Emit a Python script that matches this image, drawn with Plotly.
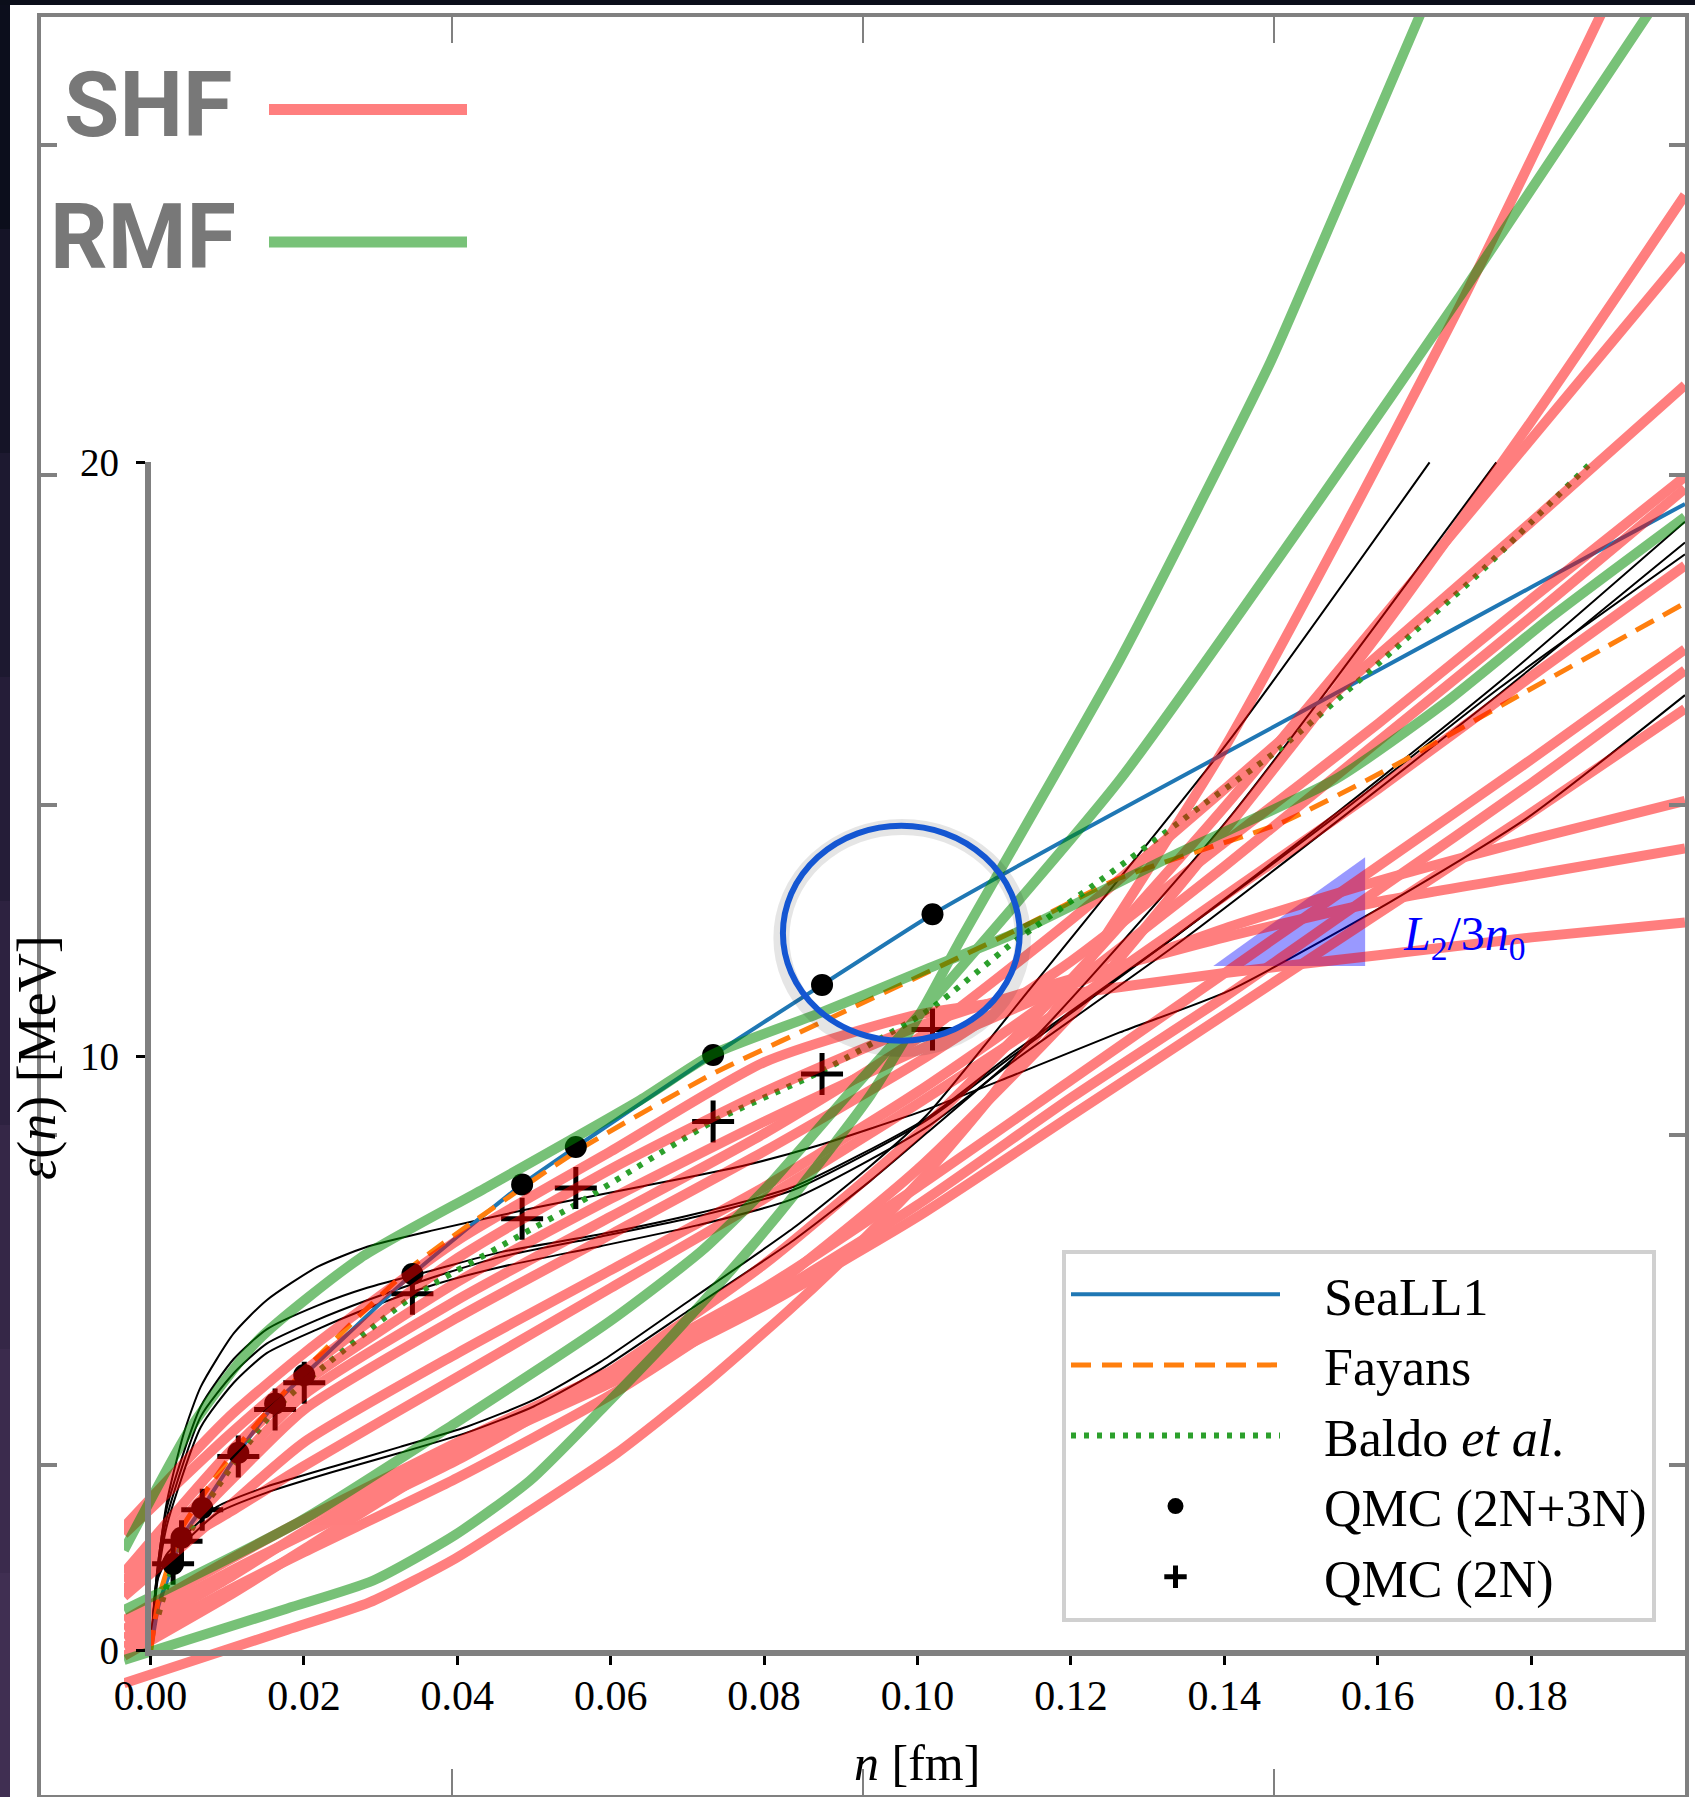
import plotly.graph_objects as go

W, H = 1695, 1797


def px(v):
    return v / W


def py(v):
    return (H - v) / H


# ---------------- data ----------------
qmc_n = [0.0029, 0.0040, 0.0067, 0.0114, 0.0162, 0.0200, 0.0341, 0.0484, 0.0554, 0.0733, 0.0875, 0.1019]
qmc_2n3n = [1.45, 1.89, 2.39, 3.32, 4.15, 4.63, 6.33, 7.84, 8.47, 10.02, 11.20, 12.39]
qmc_2n = [1.45, 1.83, 2.36, 3.26, 4.05, 4.50, 6.00, 7.26, 7.78, 8.90, 9.70, 10.45]

seall1_n = [0, 0.001, 0.0029, 0.004, 0.0067, 0.0114, 0.0162, 0.02, 0.0341, 0.0484, 0.0554,
            0.0733, 0.0875, 0.1019, 0.12, 0.14, 0.16, 0.18, 0.2]
seall1_e = [0, 0.75, 1.45, 1.89, 2.39, 3.32, 4.15, 4.63, 6.33, 7.84, 8.47,
            10.02, 11.20, 12.39, 13.7, 15.1, 16.5, 17.9, 19.3]

fayans_n = [0, 0.001, 0.004, 0.0113, 0.02, 0.0342, 0.0555, 0.0732, 0.0912, 0.1123, 0.1263,
            0.1474, 0.1615, 0.179, 0.2]
fayans_e = [0, 0.85, 2.04, 3.42, 4.71, 6.47, 8.4, 9.7, 10.8, 12.09, 13.0,
            13.93, 14.85, 16.12, 17.63]

baldo_n = [0.001, 0.003, 0.0067, 0.0114, 0.0162, 0.02, 0.0341, 0.0484, 0.0554, 0.0733, 0.0875,
           0.1017, 0.1123, 0.1242, 0.1368, 0.1474, 0.1586, 0.1729, 0.1874]
baldo_e = [0.6, 1.45, 2.35, 3.25, 4.05, 4.5, 5.95, 7.0, 7.5, 8.9, 9.75,
           10.8, 11.9, 13.0, 14.2, 15.2, 16.45, 18.1, 19.95]

# SHF (Skyrme) curves
shf_n = [-0.0035, 0.01, 0.02, 0.04, 0.06, 0.08, 0.10, 0.12, 0.14, 0.16, 0.18, 0.20]
shf_02 = [0.05, 1.0, 1.65, 2.9, 4.3, 6.0, 8.1, 10.7, 13.8, 17.1, 20.7, 24.5]
shf_03 = [0.35, 1.3, 1.95, 3.2, 4.7, 6.5, 8.7, 11.3, 14.2, 17.3, 20.4, 23.5]
shf_04 = [1.15, 3.0, 4.3, 5.9, 7.3, 8.7, 10.3, 12.3, 14.5, 16.75, 19.0, 21.3]
shf_05 = [1.0, 2.8, 4.05, 5.6, 7.0, 8.4, 9.9, 11.6, 13.6, 15.6, 17.7, 19.76]
shf_06 = [0.9, 2.4, 3.5, 5.0, 6.4, 7.8, 9.4, 11.2, 13.2, 15.3, 17.4, 19.56]
shf_07 = [1.3, 2.3, 3.1, 4.6, 6.1, 7.6, 9.2, 10.9, 12.7, 14.5, 16.4, 18.26]
shf_08 = [0.5, 1.5, 2.2, 3.5, 4.7, 6.1, 7.8, 9.6, 11.4, 13.2, 15.0, 16.85]
shf_09 = [0.2, 1.2, 2.0, 3.4, 4.6, 5.9, 7.5, 9.3, 11.0, 12.8, 14.6, 16.5]
shf_10 = [-0.1, 0.9, 1.7, 3.3, 4.5, 5.8, 7.3, 9.0, 10.7, 12.4, 14.1, 15.85]
shf_11 = [1.3, 3.3, 4.5, 6.2, 7.6, 8.9, 10.1, 11.2, 12.15, 12.95, 13.65, 14.3]
shf_12 = [1.95, 3.6, 4.7, 6.6, 8.1, 9.4, 10.5, 11.3, 12.0, 12.6, 13.05, 13.5]
shf_13 = [2.07, 3.9, 5.0, 6.9, 8.4, 9.9, 10.7, 11.05, 11.4, 11.7, 12.0, 12.25]
shf_01_n = [-0.0035, 0.0178, 0.0285, 0.0397, 0.0494, 0.0607, 0.0719, 0.0831, 0.0906, 0.1, 0.11,
            0.12, 0.13, 0.14, 0.156, 0.1709, 0.19]
shf_01 = [-0.56, 0.34, 0.8, 1.54, 2.34, 3.31, 4.45, 5.71, 6.62, 7.86, 9.39,
          11.16, 13.14, 15.2, 19.0, 22.7, 27.8]

# RMF curves
rmf_1_n = [-0.0035, 0.0178, 0.029, 0.0397, 0.0494, 0.0591, 0.0681, 0.0779, 0.0838, 0.0938, 0.1011,
           0.1053, 0.1263, 0.137, 0.146, 0.1544, 0.168]
rmf_1 = [-0.17, 0.7, 1.17, 1.94, 2.85, 4.1, 5.31, 6.73, 7.65, 9.34, 10.9,
         11.9, 16.67, 19.36, 21.7, 24.2, 28.3]
rmf_2_n = [-0.0035, 0.0195, 0.0397, 0.06, 0.0719, 0.08, 0.0912, 0.1043, 0.1263, 0.1523, 0.1709, 0.197]
rmf_2 = [0.67, 2.17, 3.82, 5.55, 6.73, 7.75, 9.4, 11.3, 14.65, 19.36, 22.84, 27.9]
rmf_3_n = [-0.0035, 0.0053, 0.014, 0.0273, 0.0439, 0.0638, 0.0732, 0.0871, 0.1016, 0.1123, 0.1333,
           0.1544, 0.1685, 0.1825, 0.2]
rmf_3 = [1.68, 3.76, 5.22, 6.6, 7.8, 9.26, 10.03, 10.72, 11.49, 12.05, 13.38,
         14.66, 15.93, 17.39, 19.08]

# thin black curves
blk_1_n = [0, 0.0008, 0.0021, 0.0043, 0.0065, 0.0108, 0.0151, 0.0217, 0.0282, 0.0369, 0.0505,
           0.0638, 0.0771, 0.0871, 0.1011, 0.1123, 0.1263, 0.1405, 0.1616, 0.1793, 0.2]
blk_1 = [0, 1.3, 2.5, 3.65, 4.43, 5.33, 5.89, 6.45, 6.79, 7.07, 7.46,
         7.8, 8.15, 8.5, 9.1, 9.67, 10.4, 11.1, 12.6, 14.0, 16.08]
blk_up_n = [0, 0.0008, 0.0021, 0.0065, 0.0108, 0.0151, 0.0217, 0.0282, 0.0369, 0.0456, 0.0586,
            0.0712, 0.0838, 0.1011, 0.1123, 0.1334, 0.1546, 0.1758, 0.2]
blk_2 = [0, 1.2, 2.24, 3.93, 4.66, 5.16, 5.56, 5.89, 6.28, 6.62, 6.96,
         7.3, 7.75, 8.92, 10.0, 12.0, 14.1, 16.3, 19.0]
blk_3 = [0, 1.1, 2.1, 3.75, 4.5, 5.0, 5.4, 5.75, 6.15, 6.45, 6.8,
         7.15, 7.6, 8.8, 9.9, 11.85, 13.95, 16.1, 18.65]
blk_4 = [0, 1.3, 2.4, 4.1, 4.9, 5.4, 5.8, 6.1, 6.4, 6.7, 7.0,
         7.35, 7.8, 8.95, 10.05, 12.0, 14.05, 16.2, 18.45]
blk_5_n = [0, 0.0008, 0.002, 0.0047, 0.0086, 0.0151, 0.0238, 0.0325, 0.0412, 0.0499, 0.0586,
           0.0705, 0.0838, 0.0938, 0.1011, 0.1144, 0.1405, 0.1667]
blk_5 = [0, 1.2, 1.6, 1.96, 2.41, 2.75, 3.09, 3.42, 3.76, 4.21, 4.85,
         5.91, 7.11, 8.15, 9.0, 11.1, 15.3, 20.0]
blk_6_n = [0, 0.0008, 0.002, 0.0047, 0.0086, 0.0151, 0.0238, 0.0325, 0.0412, 0.0499, 0.0586,
           0.0705, 0.0838, 0.0938, 0.1011, 0.1144, 0.1405, 0.1754]
blk_6 = [0, 1.15, 1.5, 1.85, 2.3, 2.65, 3.0, 3.32, 3.66, 4.1, 4.72,
         5.75, 6.9, 7.9, 8.7, 10.2, 14.0, 20.0]

# L2/3n0 wedge
wedge_n = [0.1385, 0.1583, 0.1583]
wedge_e = [11.52, 13.35, 11.52]

x_ticks = [0.00, 0.02, 0.04, 0.06, 0.08, 0.10, 0.12, 0.14, 0.16, 0.18]
y_ticks = [0, 10, 20]

# ---------------- styles ----------------
PINK_KEY = 'rgba(255,0,0,0.5)'
GREEN_KEY = 'rgba(0,140,0,0.53)'
SERIF = 'Liberation Serif, Times New Roman, serif'
BOLDSANS = 'Roboto, Liberation Sans, sans-serif'
NB = '\u00a0\u00a0\u00a0'


def joined(sets):
    xs, ys = [], []
    for a, b in sets:
        xs += list(a) + [None]
        ys += list(b) + [None]
    return xs, ys


fig = go.Figure()

black_sets = [(blk_1_n, blk_1), (blk_up_n, blk_2), (blk_up_n, blk_3), (blk_up_n, blk_4),
              (blk_5_n, blk_5), (blk_6_n, blk_6)]
bx, by = joined(black_sets)
fig.add_trace(go.Scatter(x=bx, y=by, mode='lines', showlegend=False, hoverinfo='skip', connectgaps=False,
                         line=dict(color='black', width=2, shape='spline', smoothing=0.6)))

fig.add_trace(go.Scatter(x=seall1_n, y=seall1_e, mode='lines', name=NB + 'SeaLL1', legendrank=1,
                         line=dict(color='#1f77b4', width=4, shape='spline', smoothing=0.5)))
fig.add_trace(go.Scatter(x=fayans_n, y=fayans_e, mode='lines', name=NB + 'Fayans', legendrank=2,
                         line=dict(color='#ff7f0e', width=5, dash='20px,11px', shape='spline', smoothing=0.5)))
fig.add_trace(go.Scatter(x=baldo_n, y=baldo_e, mode='lines', name=NB + 'Baldo <i>et al.</i>',
                         legendrank=3,
                         line=dict(color='#2ca02c', width=6, dash='5px,8px', shape='spline', smoothing=0.5)))
fig.add_trace(go.Scatter(x=qmc_n, y=qmc_2n3n, mode='markers', name=NB + 'QMC (2N+3N)', legendrank=4,
                         marker=dict(color='black', size=22, symbol='circle')))
fig.add_trace(go.Scatter(x=qmc_n, y=qmc_2n, mode='markers', name=NB + 'QMC (2N)', legendrank=5,
                         marker=dict(color='black', size=30, symbol='cross-thin',
                                     line=dict(color='black', width=5))))

fig.add_trace(go.Scatter(x=wedge_n, y=wedge_e, mode='lines', fill='toself',
                         fillcolor='rgba(0,0,255,0.4)', line=dict(width=0),
                         showlegend=False, hoverinfo='skip'))

shf_sets = [(shf_01_n, shf_01), (shf_n, shf_02), (shf_n, shf_03), (shf_n, shf_04), (shf_n, shf_05),
            (shf_n, shf_06), (shf_n, shf_07), (shf_n, shf_08), (shf_n, shf_09), (shf_n, shf_10),
            (shf_n, shf_11), (shf_n, shf_12), (shf_n, shf_13)]
sx, sy = joined(shf_sets)
fig.add_trace(go.Scatter(x=sx, y=sy, mode='lines', showlegend=False, hoverinfo='skip', connectgaps=False,
                         opacity=0.5,
                         line=dict(color='rgb(255,0,0)', width=10, shape='spline', smoothing=0.6)))

rmf_sets = [(rmf_1_n, rmf_1), (rmf_2_n, rmf_2), (rmf_3_n, rmf_3)]
rx, ry = joined(rmf_sets)
fig.add_trace(go.Scatter(x=rx, y=ry, mode='lines', showlegend=False, hoverinfo='skip', connectgaps=False,
                         opacity=0.53,
                         line=dict(color='rgb(0,140,0)', width=10, shape='spline', smoothing=0.6)))

# dummy traces for frame axes and spine axes
fig.add_trace(go.Scatter(x=[None], y=[None], xaxis='x2', yaxis='y2', showlegend=False, hoverinfo='skip'))
fig.add_trace(go.Scatter(x=[None], y=[None], xaxis='x3', yaxis='y3', showlegend=False, hoverinfo='skip'))

# ---------------- layout ----------------
shapes = []
shapes.append(dict(type='rect', xref='paper', yref='paper', x0=px(10), x1=1, y0=0, y1=py(5),
                   fillcolor='white', line=dict(width=0), layer='below'))
band_cols = ['#0c0e1c', '#151427', '#1d1930', '#251d38', '#2d2240', '#352747', '#3b2b4d', '#402f52']
nseg = len(band_cols)
for i, c in enumerate(band_cols):
    shapes.append(dict(type='rect', xref='paper', yref='paper', x0=0, x1=px(10),
                       y0=py(5 + (H - 5) * (i + 1) / nseg), y1=py(5 + (H - 5) * i / nseg),
                       fillcolor=c, line=dict(width=0), layer='below'))
shapes.append(dict(type='line', xref='paper', yref='paper', x0=px(269), x1=px(467),
                   y0=py(109.5), y1=py(109.5), line=dict(color=PINK_KEY, width=11)))
shapes.append(dict(type='line', xref='paper', yref='paper', x0=px(269), x1=px(467),
                   y0=py(242), y1=py(242), line=dict(color=GREEN_KEY, width=11)))
shapes.append(dict(type='circle', xref='x', yref='y', x0=0.0822, x1=0.1137, y0=10.12, y1=13.86,
                   line=dict(color='rgba(0,0,0,0.10)', width=16)))
shapes.append(dict(type='circle', xref='x', yref='y', x0=0.0824, x1=0.11327, y0=10.26, y1=13.88,
                   line=dict(color='#1456d2', width=6)))

annotations = [
    dict(text='<b>SHF</b>', xref='paper', yref='paper', x=px(148), y=py(106), xanchor='center',
         yanchor='middle', showarrow=False, font=dict(family=BOLDSANS, size=90, color='#787878')),
    dict(text='<b>RMF</b>', xref='paper', yref='paper', x=px(143), y=py(238), xanchor='center',
         yanchor='middle', showarrow=False, font=dict(family=BOLDSANS, size=90, color='#787878')),
    dict(text='<i>L</i><sub>2</sub>/3<i>n</i><sub>0</sub>', xref='x', yref='y', x=0.1713, y=12.0,
         xanchor='center', yanchor='middle', showarrow=False,
         font=dict(family=SERIF, size=48, color='#0000ff')),
    dict(text='<i>n</i> [fm]', xref='paper', yref='paper', x=px(917), y=py(1763), xanchor='center',
         yanchor='middle', showarrow=False, font=dict(family=SERIF, size=50, color='black')),
    dict(text='<i>ε</i>(<i>n</i>) [MeV]', xref='paper', yref='paper', x=px(37), y=py(1058),
         xanchor='center', yanchor='middle', textangle=-90, showarrow=False, borderpad=0,
         font=dict(family=SERIF, size=54, color='black')),
]

fig.update_layout(
    width=W, height=H,
    margin=dict(l=0, r=0, t=0, b=0, pad=0, autoexpand=False),
    paper_bgcolor='#0b0e1a',
    plot_bgcolor='rgba(0,0,0,0)',
    showlegend=True,
    shapes=shapes,
    annotations=annotations,
    xaxis=dict(domain=[px(124), px(1685)], range=[-0.0035, 0.2], visible=False, fixedrange=True),
    yaxis=dict(domain=[py(1694.5), py(17)], range=[-0.75, 27.5], visible=False, fixedrange=True),
    xaxis2=dict(domain=[px(41), px(1685)], range=[0, 1], anchor='y2', showline=True, linecolor='#808080',
                linewidth=4, mirror='ticks', ticks='inside', ticklen=26, tickwidth=2, tickcolor='#808080',
                tickvals=[0.25, 0.5, 0.75], showticklabels=False, showgrid=False, zeroline=False,
                fixedrange=True),
    yaxis2=dict(domain=[py(1795), py(17)], range=[0, 1], anchor='x2', showline=True, linecolor='#808080',
                linewidth=4, mirror='ticks', ticks='inside', ticklen=16, tickwidth=4, tickcolor='#808080',
                tickvals=[0.1856, 0.3712, 0.5568, 0.7424, 0.928], showticklabels=False, showgrid=False,
                zeroline=False, fixedrange=True),
    xaxis3=dict(domain=[px(150.5), px(1684.5)], range=[0, 0.2], anchor='y3', showline=True,
                linecolor='#808080', linewidth=5.5, ticks='outside', ticklen=9, tickwidth=3,
                tickcolor='black', tickvals=x_ticks, ticktext=['%.2f' % v for v in x_ticks],
                ticklabelstandoff=-5,
                tickfont=dict(family=SERIF, size=42, color='black'), showgrid=False, zeroline=False,
                fixedrange=True),
    yaxis3=dict(domain=[py(1650), py(462)], range=[0, 20], anchor='x3', showline=True,
                linecolor='#808080', linewidth=5.5, ticks='outside', ticklen=9, tickwidth=3,
                tickcolor='black', tickvals=y_ticks, ticktext=[str(v) for v in y_ticks],
                ticklabelstandoff=9,
                tickfont=dict(family=SERIF, size=39, color='black'), showgrid=False, zeroline=False,
                fixedrange=True),
    legend=dict(x=px(1062), y=py(1250), xanchor='left', yanchor='top', bgcolor='white',
                bordercolor='#d0d0d0', borderwidth=4, itemwidth=209,
                font=dict(family=SERIF, size=52, color='black'), traceorder='normal'),
)

fig.write_html('out.html')
